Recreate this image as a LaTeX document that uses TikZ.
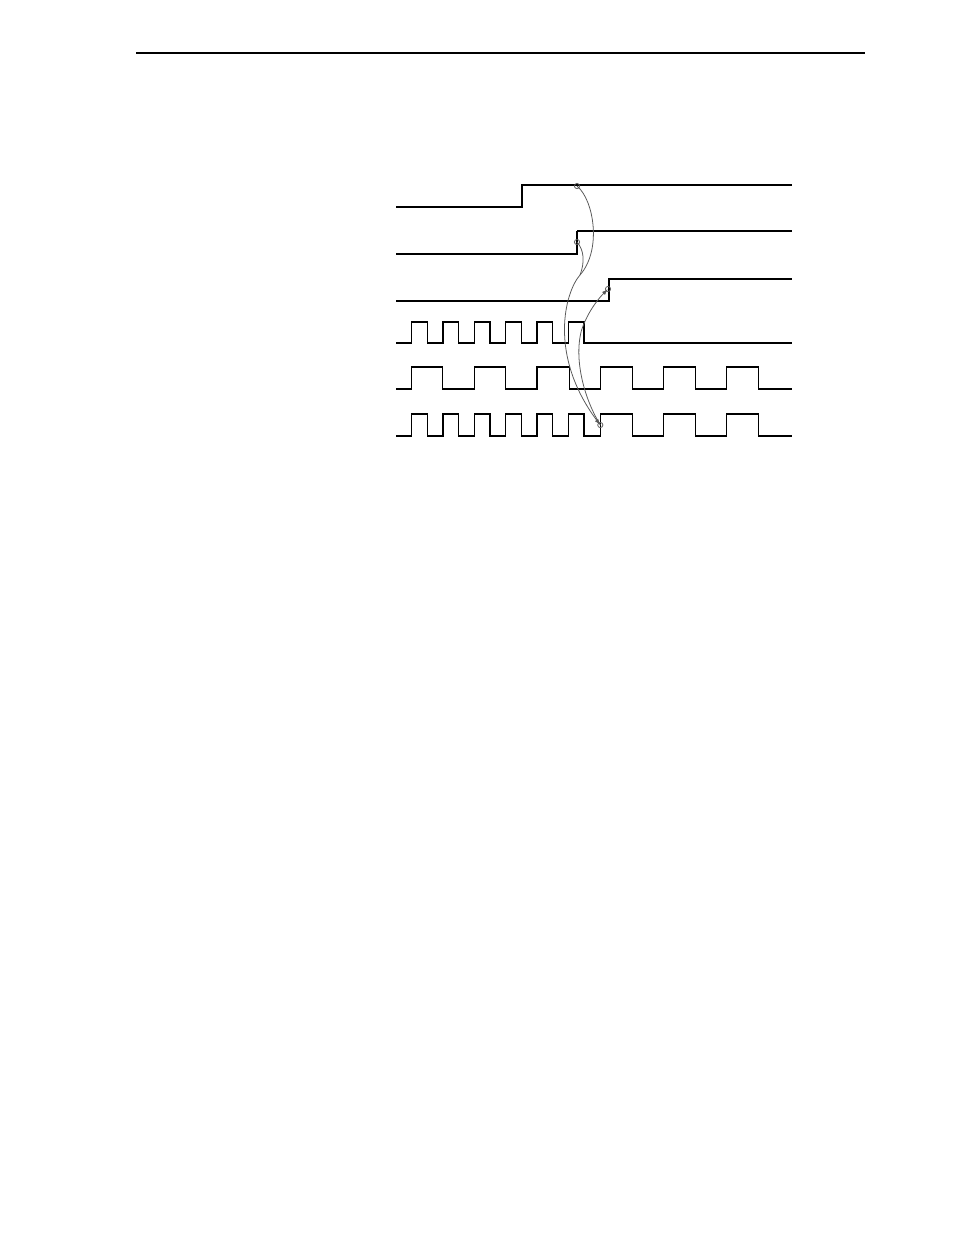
\documentclass[tikz,border=0pt]{standalone}
\usetikzlibrary{arrows.meta}
\tikzset{
  sigbold/.style={line width=1.4pt},
  sigthin/.style={line width=0.85pt},
  link/.style={black!65,line width=0.5pt},
  linkarrow/.style={link,-{Latex[length=4pt,width=2.6pt]}}
}
\begin{document}
\begin{tikzpicture}[x=0.6415pt,y=-0.6415pt]
			%%%%% START %%%%%
			\def\xbeg{396}
			\def\xend{792}
			\def\radsm{2.6}
			\useasboundingbox (0,0) rectangle (954,1235);

			% page rule
			\draw[line width=0.9pt] (136,53) -- (865,53);

			% level signals
			\draw[sigbold] (\xbeg,207) -| (522,185) -- (\xend,185);
			\draw[sigbold] (\xbeg,254) -| (577,231);
			\draw[sigthin] (577,231) -- (\xend,231);
			\draw[sigbold] (\xbeg,301) -| (609,279) -- (\xend,279);

			% fast clock, stops
			\draw[sigthin] (\xbeg,343) -| (411.7,322) -| (427.3,343) -| (443,322) -| (458.7,343)
			  -| (474.3,322) -| (490,343) -| (505.7,322) -| (521.3,343) -| (537,322)
			  -| (552.7,343) -| (568.3,322) -| (584,343) -- (\xend,343);

			% slow clock
			\draw[sigthin] (\xbeg,389) -| (411.7,367) -| (442.7,389) -| (474.3,367) -| (505.7,389)
			  -| (537,367) -| (569.3,389) -| (600.3,367) -| (632.3,389) -| (663.7,367)
			  -| (695.3,389) -| (726.7,367) -| (758.3,389) -- (\xend,389);

			% selected clock
			\draw[sigthin] (\xbeg,436) -| (411.7,414) -| (427.3,436) -| (443,414) -| (458.7,436)
			  -| (474.3,414) -| (490,436) -| (505.7,414) -| (521.3,436) -| (537,414)
			  -| (552.7,436) -| (568.3,414) -| (584,436) -| (600.3,414) -| (632.3,436)
			  -| (663.7,414) -| (695.3,436) -| (726.7,414) -| (758.3,436) -- (\xend,436);

			% edge points
			\coordinate (edgeone) at (577,186);
			\coordinate (edgetwo) at (577,242);
			\coordinate (edgethree) at (608,289);
			\coordinate (edgesix) at (600.3,425);
			\coordinate (merge) at (580,275);

			% cause links
			\draw[linkarrow] (edgeone) .. controls (594,200) and (602,250) .. (merge)
			  .. controls (565,292) and (548,355) .. (edgesix);
			\draw[link] (edgetwo) .. controls (584,250) and (585,262) .. (merge);
			\draw[linkarrow] (edgesix) .. controls (585,400) and (574,362) .. (581,332)
			  .. controls (586,315) and (597,300) .. (edgethree);

			\foreach \p in {edgeone,edgetwo,edgethree,edgesix}
			  \draw[link] (\p) circle (\radsm);
			%%%%% END %%%%%
\end{tikzpicture}
\end{document}
